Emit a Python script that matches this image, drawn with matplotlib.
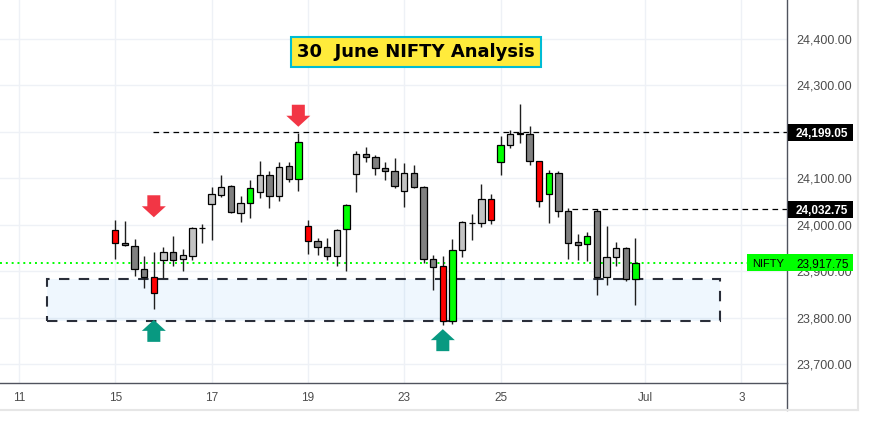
"""
nifty_30june.py
Recreates the "30 June NIFTY Analysis" candlestick chart.
"""

import numpy as np
import matplotlib
matplotlib.use("Agg")
import matplotlib.pyplot as plt
import matplotlib.transforms as mtransforms
from matplotlib.patches import Rectangle, Polygon
from matplotlib.lines import Line2D

# ─── Data ────────────────────────────────────────────────────────────────────
opens  = [23989, 23961, 23954, 23904, 23887, 23923, 23941, 23926, 23932, 23992,
          24045, 24065, 24083, 24026, 24046, 24070, 24108, 24061, 24126, 24098,
          23997, 23964, 23951, 23933, 23990, 24109, 24152, 24145, 24122, 24116,
          24072, 24111, 24081, 23927, 23910, 23792, 23946, 24003, 24003, 24055,
          24134, 24171, 24196, 24195, 24137, 24066, 24111, 24029, 23962, 23958,
          24029, 23888, 23930, 23949, 23882]
highs  = [24010, 24008, 23969, 23933, 23941, 23952, 23976, 23947, 23995, 24001,
          24081, 24107, 24085, 24061, 24096, 24137, 24115, 24134, 24136, 24197,
          24010, 23971, 23971, 23991, 24045, 24158, 24167, 24151, 24135, 24144,
          24133, 24129, 24083, 23934, 23932, 23969, 24007, 24023, 24088, 24066,
          24190, 24204, 24260, 24213, 24138, 24118, 24116, 24037, 23980, 23984,
          24033, 23997, 23963, 23952, 23971]
lows   = [23927, 23955, 23890, 23864, 23818, 23885, 23910, 23901, 23923, 23961,
          23967, 24060, 24025, 24005, 24015, 24058, 24037, 24050, 24091, 24073,
          23937, 23935, 23923, 23912, 23901, 24071, 24135, 24108, 24096, 24080,
          24039, 24078, 23917, 23859, 23783, 23787, 23931, 23966, 23994, 24002,
          24108, 24166, 24177, 24129, 24039, 24004, 24017, 23926, 23924, 23922,
          23849, 23871, 23910, 23879, 23828]
closes = [23960, 23956, 23904, 23887, 23852, 23941, 23923, 23934, 23992, 23993,
          24066, 24081, 24027, 24046, 24078, 24106, 24061, 24124, 24098, 24178,
          23964, 23951, 23933, 23988, 24042, 24152, 24145, 24122, 24116, 24084,
          24111, 24081, 23927, 23908, 23792, 23945, 24005, 24004, 24055, 24010,
          24171, 24195, 24198, 24137, 24050, 24111, 24029, 23960, 23956, 23975,
          23888, 23930, 23949, 23882, 23918]
# bar colouring used on the source chart: r=red, g=green, l=light grey, d=dark grey
tones  = ["r", "d", "d", "d", "r", "l", "d", "l", "l", "l",
          "l", "l", "d", "l", "g", "l", "d", "l", "d", "g",
          "r", "d", "d", "l", "g", "l", "d", "d", "d", "d",
          "l", "d", "d", "d", "r", "g", "l", "l", "l", "r",
          "g", "l", "d", "d", "r", "g", "d", "d", "d", "g",
          "d", "l", "l", "d", "g"]

tick_pos    = [-10, 0, 10, 20, 30, 40, 55, 65]
tick_labels = ["11", "15", "17", "19", "23", "25", "Jul", "3"]
price_ticks = [23700, 23800, 23900, 24000, 24100, 24200, 24300, 24400]
hidden_tick = 24200          # covered by the 24,199.05 tag on the source

last_price   = 23917.75
levels       = [24199.05, 24032.75]
level_starts = [3.9, 47.4]
zone_x       = [-7.1, 62.8]
zone_y       = [23793, 23883]

sell_x,  sell_tip = [4, 19], [24016, 24211]
buy_x,   buy_tip  = [4, 34], [23795, 23775]

TONE_COLORS = {"r": "#ff0000", "g": "#00ff00", "l": "#c3c3c3", "d": "#808080"}
AXIS_COL    = "#50535e"
TEXT_COL    = "#4c4c4c"
GRID_COL    = "#eef1f6"

plt.rcParams["font.family"] = ["Liberation Sans", "DejaVu Sans"]

W, H = 869, 428
AX_W = 787
fig = plt.figure(figsize=(W / 100, H / 100), dpi=100)
ax = fig.add_axes([0, 45 / H, AX_W / W, 383 / H])

x = np.arange(len(opens))
o = np.array(opens); c = np.array(closes)
ax.set_xlim(-11.97, 69.73)
ax.set_ylim(23659, 24484)

# ── grid / axes ───────────────────────────────────────────────────────────────
ax.set_axisbelow(True)
ax.grid(True, color=GRID_COL, lw=1)
ax.set_xticks(tick_pos)
ax.set_xticklabels(tick_labels)
ax.set_yticks(price_ticks)
ax.set_yticklabels(["" if p == hidden_tick else f"{p:,.2f}" for p in price_ticks])
ax.yaxis.tick_right()
ax.tick_params(axis="x", length=0, pad=6.5, labelsize=8.5, labelcolor=TEXT_COL)
ax.tick_params(axis="y", length=0, pad=6.5, labelsize=9, labelcolor=TEXT_COL)
for s in ("top", "left"):
    ax.spines[s].set_visible(False)
for s in ("right", "bottom"):
    ax.spines[s].set_color(AXIS_COL)
    ax.spines[s].set_linewidth(1)

# ── support zone, levels ──────────────────────────────────────────────────────
ax.add_patch(Rectangle((zone_x[0], zone_y[0]), zone_x[1] - zone_x[0], zone_y[1] - zone_y[0],
                       facecolor=(0.13, 0.59, 0.95, 0.07), edgecolor="#2a2e39",
                       lw=1.5, ls=(0, (5, 4.5)), zorder=1))
ax.hlines(levels, level_starts, ax.get_xlim()[1], colors="black", lw=0.9,
          linestyles=[(0, (4.5, 3.5))], zorder=2.5)
ax.axhline(last_price, color="#00ff00", lw=1.4, ls=(0, (1, 2)), zorder=2)

# ── candles ───────────────────────────────────────────────────────────────────
ax.vlines(x, lows, highs, color="#1e1e1e", lw=1, zorder=3)
ax.bar(x, np.abs(c - o), bottom=np.minimum(o, c), width=0.66,
       color=[TONE_COLORS[t] for t in tones], edgecolor="black", linewidth=0.9, zorder=4)


# ── arrows ────────────────────────────────────────────────────────────────────
def draw_arrow(xi, tip, down, color):
    s = 1 if down else -1
    verts = [(0, 0), (-12, 11 * s), (-6.5, 11 * s), (-6.5, 22 * s),
             (6.5, 22 * s), (6.5, 11 * s), (12, 11 * s)]
    tr = mtransforms.Affine2D() + mtransforms.ScaledTranslation(xi, tip, ax.transData)
    ax.add_patch(Polygon(verts, closed=True, transform=tr, facecolor=color,
                         edgecolor="none", zorder=6, clip_on=False))


for xi, tp in zip(sell_x, sell_tip):
    draw_arrow(xi, tp, True, "#f23645")
for xi, tp in zip(buy_x, buy_tip):
    draw_arrow(xi, tp, False, "#089981")

# ── title ─────────────────────────────────────────────────────────────────────
ax.text(416 / AX_W, 1 - 52 / 383, "30  June NIFTY Analysis", transform=ax.transAxes,
        ha="center", va="center", fontsize=13, fontweight="bold", color="black",
        family="DejaVu Sans", zorder=8,
        bbox=dict(boxstyle="square,pad=0.35", facecolor="#ffeb3b",
                  edgecolor="#00bcd4", lw=1.5))

# ── price-scale tags (pixel offsets from the axis edge) ───────────────────────
ytr = ax.get_yaxis_transform()


def price_tag(level, face, txtcol, weight, left_px=1, label=None):
    tr = mtransforms.Affine2D() + mtransforms.ScaledTranslation(1.0, level, ytr)
    ax.add_patch(Rectangle((left_px, -8.5), 66 - left_px, 17, transform=tr,
                           facecolor=face, edgecolor="none", zorder=9, clip_on=False))
    ax.text(9, 0, f"{level:,.2f}", transform=tr, ha="left", va="center_baseline",
            fontsize=8.5, fontweight=weight, color=txtcol, zorder=10, clip_on=False)
    if label:
        ax.text(left_px + 5, 0, label, transform=tr, ha="left", va="center_baseline",
                fontsize=8, color=txtcol, zorder=10, clip_on=False)


for lv in levels:
    price_tag(lv, "black", "white", "bold")
price_tag(last_price, "#00ff00", "black", "normal", left_px=-40, label="NIFTY")

# ── frame pieces outside the axes ─────────────────────────────────────────────
fig.add_artist(Line2D([AX_W / W, AX_W / W], [45 / H, 18 / H], color=AXIS_COL, lw=1))
fig.add_artist(Line2D([0, 858 / W], [18 / H, 18 / H], color="#e6e6e6", lw=1.5))
fig.add_artist(Line2D([858 / W, 858 / W], [18 / H, 1], color="#e6e6e6", lw=1.5))

fig.savefig("out.png", dpi=100)
